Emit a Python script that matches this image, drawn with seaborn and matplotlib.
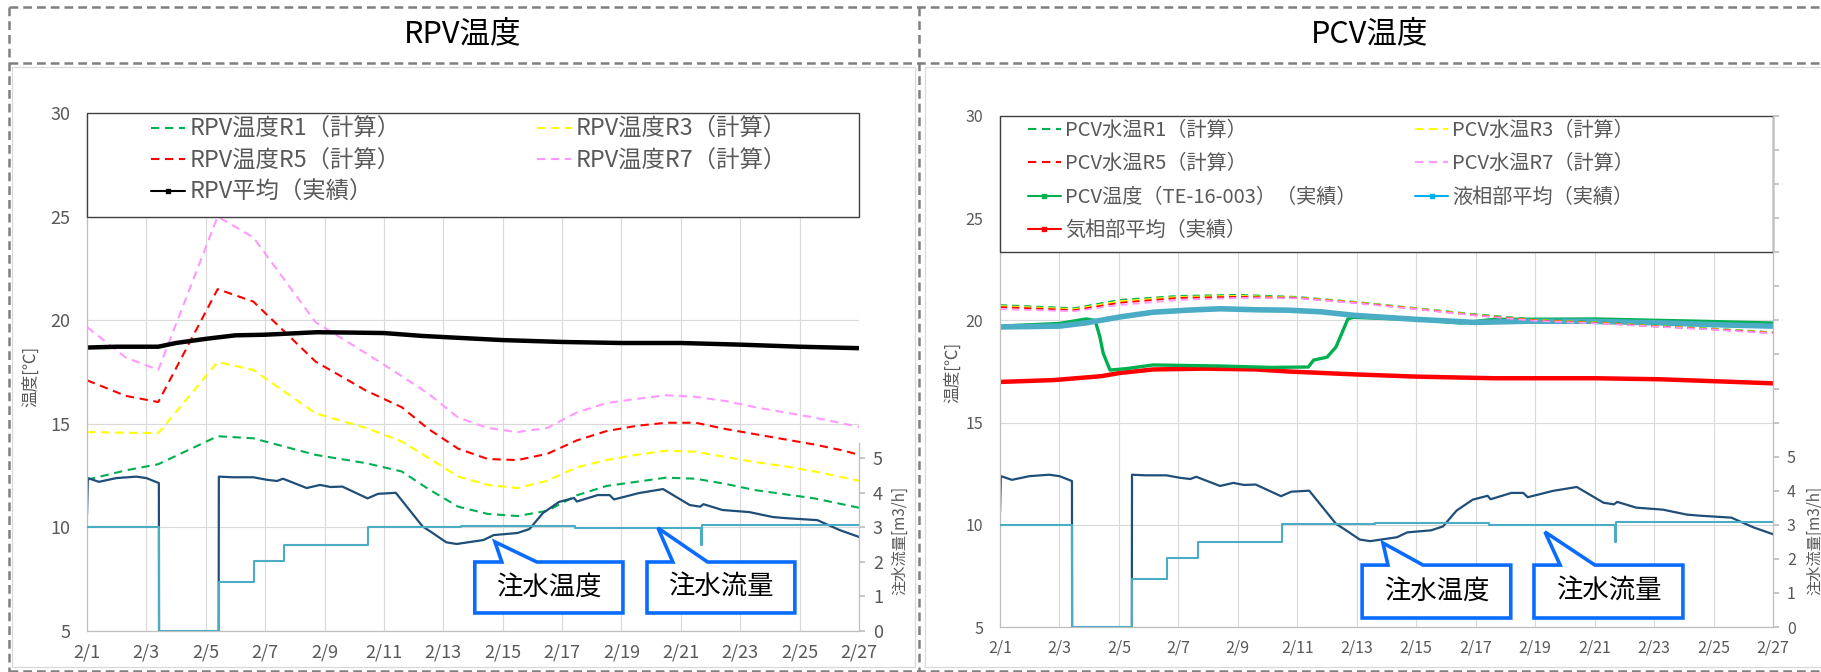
import numpy as np
import matplotlib
matplotlib.use("Agg")
import matplotlib.pyplot as plt
import seaborn as sns
from matplotlib.lines import Line2D
from matplotlib.patches import Rectangle, Polygon

# --------------------------
# DATA (day 0 = 2/1)
# --------------------------
x_tick_pos = list(range(0, 27, 2))
x_tick_labels = ["2/1", "2/3", "2/5", "2/7", "2/9", "2/11", "2/13", "2/15",
                 "2/17", "2/19", "2/21", "2/23", "2/25", "2/27"]
temp_ticks = [5, 10, 15, 20, 25, 30]
flow_ticks = [0, 1, 2, 3, 4, 5]

# RPV calc
rpv_days = [0, 1.3, 2.4, 4.4, 5.6, 7.7, 9.4, 10.6, 11.5, 12.5, 13.5, 14.5, 15.5,
            16.5, 17.5, 18.5, 19.5, 20.5, 21.5, 22.5, 23.5, 24.5, 25.5, 26]
rpv_r1 = [12.3, 12.75, 13.05, 14.4, 14.3, 13.5, 13.1, 12.7, 11.85, 11.0, 10.65, 10.55,
          10.8, 11.55, 12.0, 12.2, 12.4, 12.35, 12.1, 11.8, 11.6, 11.4, 11.1, 10.95]
rpv_r3 = [14.6, 14.57, 14.55, 17.98, 17.6, 15.5, 14.8, 14.15, 13.35, 12.45, 12.05, 11.9,
          12.25, 12.9, 13.25, 13.5, 13.7, 13.65, 13.4, 13.15, 12.95, 12.7, 12.4, 12.25]
rpv_r5 = [17.1, 16.35, 16.05, 21.5, 20.9, 18.0, 16.6, 15.8, 14.75, 13.8, 13.3, 13.25,
          13.55, 14.2, 14.65, 14.9, 15.05, 15.05, 14.75, 14.5, 14.25, 14.0, 13.7, 13.5]
rpv_r7 = [19.67, 18.2, 17.6, 25.0, 24.0, 19.9, 18.4, 17.3, 16.45, 15.3, 14.8, 14.6,
          14.8, 15.55, 16.0, 16.2, 16.38, 16.3, 16.1, 15.8, 15.55, 15.3, 15.0, 14.85]

# RPV average (measured)
rpv_avg_days = [0, 1.0, 2.4, 3.0, 4.0, 5.0, 6.0, 7.75, 9.0, 10.0, 11.3, 12.5, 14.0,
                16.0, 18.0, 20.0, 22.0, 24.0, 26.0]
rpv_avg = [18.68, 18.72, 18.72, 18.9, 19.1, 19.27, 19.3, 19.42, 19.4, 19.38, 19.24,
           19.15, 19.04, 18.95, 18.9, 18.9, 18.82, 18.72, 18.65]

# PCV calc
pcv_days = [0, 2.5, 4, 6, 8, 10, 12, 14, 16, 18, 20, 22, 24, 26]
pcv_r1 = [20.75, 20.6, 21.0, 21.2, 21.25, 21.15, 20.9, 20.6, 20.3, 20.05, 19.92, 19.75, 19.6, 19.42]
pcv_r3 = [20.7, 20.55, 20.93, 21.15, 21.2, 21.12, 20.88, 20.58, 20.27, 20.02, 19.9, 19.73, 19.58, 19.4]
pcv_r5 = [20.65, 20.5, 20.86, 21.1, 21.15, 21.1, 20.86, 20.56, 20.25, 20.0, 19.88, 19.71, 19.56, 19.38]
pcv_r7 = [20.55, 20.45, 20.75, 21.0, 21.1, 21.08, 20.84, 20.55, 20.24, 19.98, 19.86, 19.7, 19.55, 19.36]

# PCV measured
te_days = [0, 2.0, 2.9, 3.2, 3.36, 3.47, 3.7, 4.25, 5.15, 7.4, 9.1, 10.37, 10.55, 11.0,
           11.3, 11.5, 11.7, 11.88, 12.8, 14, 15.5, 16.6, 20, 23.8, 26]
te_temp = [19.72, 19.85, 20.07, 20.0, 19.19, 18.4, 17.57, 17.64, 17.82, 17.77, 17.7, 17.72,
           18.06, 18.2, 18.7, 19.38, 20.07, 20.15, 20.1, 20.05, 19.87, 20.05, 20.07, 19.95, 19.87]
liq_days = [0, 2, 2.9, 4.04, 5.15, 6.3, 7.4, 8.6, 9.7, 10.8, 11.9, 14, 16, 17.7, 19.7, 22.2, 24.5, 26]
liq_temp = [19.68, 19.72, 19.88, 20.17, 20.4, 20.5, 20.57, 20.52, 20.5, 20.42, 20.25, 20.05,
            19.9, 19.96, 19.96, 19.88, 19.77, 19.72]
gas_days = [0, 1.8, 3.4, 4.04, 5.15, 6.9, 8.6, 9.7, 10.8, 11.9, 14, 16.6, 20, 22.2, 24.5, 26]
gas_temp = [16.99, 17.08, 17.27, 17.43, 17.6, 17.64, 17.6, 17.5, 17.43, 17.36, 17.25, 17.17,
            17.17, 17.12, 17.0, 16.92]

# injection water temperature [C] and flow [m3/h]
inj_days = [0, 0.03, 0.4, 0.99, 1.66, 2.0, 2.42, 2.43, 4.43, 4.44, 4.9, 5.6, 6.05, 6.4, 6.6,
            7.4, 7.85, 8.2, 8.6, 9.45, 9.8, 10.4, 11.3, 11.6, 12.1, 12.45, 13.35, 13.7, 14.5,
            14.9, 15.36, 15.9, 16.4, 16.5, 17.2, 17.6, 17.75, 18.6, 19.4, 20.3, 20.65, 20.76,
            21.4, 22.3, 23.1, 23.5, 24.6, 25.35, 26.0]
inj_temp = [10.6, 12.38, 12.2, 12.38, 12.45, 12.38, 12.14, 0, 0, 12.45, 12.42, 12.42, 12.3,
            12.24, 12.35, 11.9, 12.05, 11.95, 11.97, 11.4, 11.62, 11.67, 10.05, 9.77, 9.28,
            9.2, 9.39, 9.63, 9.73, 9.92, 10.7, 11.23, 11.42, 11.25, 11.56, 11.56, 11.35,
            11.66, 11.85, 11.08, 11.0, 11.12, 10.84, 10.74, 10.5, 10.45, 10.35, 9.87, 9.54]
flow_days = [0, 2.42, 4.44, 5.62, 6.65, 9.47, 12.6, 16.45, 20.68, 20.72, 26.0]
flow_vals = [3.0, 0.0, 1.42, 2.03, 2.49, 3.01, 3.05, 2.98, 2.49, 3.07, 3.07]

rpv_labels = ["RPV温度R1（計算）", "RPV温度R3（計算）", "RPV温度R5（計算）",
              "RPV温度R7（計算）", "RPV平均（実績）"]
pcv_labels = ["PCV水温R1（計算）", "PCV水温R3（計算）", "PCV水温R5（計算）",
              "PCV水温R7（計算）", "PCV温度（TE-16-003）（実績）", "液相部平均（実績）",
              "気相部平均（実績）"]
callout_texts = ["注水温度", "注水流量"]

# --------------------------
# STYLE
# --------------------------
sns.set_theme(style="white")
plt.rcParams["font.family"] = ["Noto Sans CJK JP", "DejaVu Sans"]

GREEN, YELLOW, RED, PINK = "#00B050", "#FFFF00", "#FF0000", "#FF99FF"
NAVY, AQUA, GRAY_TXT = "#1F4E79", "#4BACC6", "#595959"
CALLOUT_BLUE = "#0A6CFF"
DASH = (0, (4, 2.7))

W, H = 1821, 672
fig = plt.figure(figsize=(W / 100, H / 100), dpi=100)


def fx(px):
    return px / W


def fy(py):
    return 1 - py / H


def line(ax, x, y, **kw):
    sns.lineplot(x=x, y=y, ax=ax, legend=False, sort=False, estimator=None, **kw)


def setup(ax, ax2, tsize, full_right):
    ax.set_xlim(0, 26)
    ax.set_ylim(5, 30)
    ax.set_xticks(x_tick_pos)
    ax.set_xticklabels(x_tick_labels)
    ax.set_yticks(temp_ticks)
    ax.grid(True, color="#D9D9D9", lw=0.8)
    ax.set_axisbelow(True)
    for s in ["top", "right"]:
        ax.spines[s].set_visible(False)
    for s in ["left", "bottom"]:
        ax.spines[s].set_color("#BFBFBF")
        ax.spines[s].set_linewidth(0.9)
    ax.tick_params(axis="both", length=0, labelsize=tsize, labelcolor=GRAY_TXT)
    ax.tick_params(axis="y", pad=12)
    ax.tick_params(axis="x", pad=9)
    ax2.set_ylim(0, 15)
    for s in ["top", "left", "bottom"]:
        ax2.spines[s].set_visible(False)
    ax2.spines["right"].set_color("#BFBFBF")
    ax2.spines["right"].set_linewidth(0.9)
    if full_right:
        ax2.set_yticks(range(16))
        ax2.set_yticklabels([str(v) for v in flow_ticks] + [""] * 10)
    else:
        ax2.spines["right"].set_bounds(0, 5.45)
        ax2.set_yticks(flow_ticks)
        ax2.set_yticklabels([str(v) for v in flow_ticks])
    ax2.tick_params(axis="y", length=4, color="#BFBFBF", labelsize=tsize,
                    labelcolor=GRAY_TXT, pad=6)
    ax2.grid(False)


def injection(ax, ax2):
    line(ax, inj_days, inj_temp, color=NAVY, lw=1.6)
    line(ax2, flow_days, flow_vals, color=AQUA, lw=1.5, drawstyle="steps-post")


def callout(ax, ax2, text, box, tip, base, fs):
    x0, x1, yb, yt = box
    pts = [(x0, yb), (x0, yt), (base[0], yt), tip, (base[1], yt), (x1, yt), (x1, yb)]
    poly = Polygon(pts, closed=True, facecolor="white", edgecolor=CALLOUT_BLUE,
                   lw=2.6, joinstyle="miter", transform=ax.transData, zorder=10,
                   clip_on=False)
    ax2.add_patch(poly)
    ax2.text((x0 + x1) / 2, (yb + yt) / 2, text, transform=ax.transData,
             ha="center", va="center", fontsize=fs, color="black", zorder=11)


def legend_box(ax, ybottom):
    ax.add_patch(Rectangle((0, ybottom), 1, 1 - ybottom, transform=ax.transAxes,
                           facecolor="white", edgecolor="#404040", lw=1.0, zorder=5,
                           clip_on=False))


def two_col_legend(ax, col1, col2, x1, x2, ytop, fs, hl, ls):
    kw = dict(loc="upper left", frameon=False, fontsize=fs, handlelength=hl,
              handletextpad=0.2, borderpad=0, labelspacing=ls, labelcolor=GRAY_TXT,
              borderaxespad=0)
    leg1 = ax.legend(handles=[h for h, _ in col1], labels=[l for _, l in col1],
                     bbox_to_anchor=(x1, ytop), **kw)
    leg1.set_zorder(6)
    ax.add_artist(leg1)
    leg2 = ax.legend(handles=[h for h, _ in col2], labels=[l for _, l in col2],
                     bbox_to_anchor=(x2, ytop), **kw)
    leg2.set_zorder(6)


def dash_handle(c):
    return Line2D([], [], color=c, lw=1.5, linestyle=DASH)


def solid_handle(c):
    return Line2D([], [], color=c, lw=1.5, marker="s", markersize=3.5)


# --------------------------
# LEFT PANEL: RPV
# --------------------------
axL = fig.add_axes([fx(87), fy(631), fx(859) - fx(87), fy(113) - fy(631)])
axL2 = axL.twinx()
setup(axL, axL2, 13, False)
for vals, c in [(rpv_r1, GREEN), (rpv_r3, YELLOW), (rpv_r5, RED), (rpv_r7, PINK)]:
    line(axL, rpv_days, vals, color=c, lw=1.5, linestyle=DASH)
line(axL, rpv_avg_days, rpv_avg, color="black", lw=3.2)
injection(axL, axL2)
legend_box(axL, 0.8)
two_col_legend(axL,
               [(dash_handle(GREEN), rpv_labels[0]), (dash_handle(RED), rpv_labels[2]),
                (solid_handle("black"), rpv_labels[4])],
               [(dash_handle(YELLOW), rpv_labels[1]), (dash_handle(PINK), rpv_labels[3])],
               0.083, 0.583, 0.99, 16.8, 1.45, 0.36)
callout(axL, axL2, callout_texts[0], (13.06, 18.05, 5.87, 8.33), (13.74, 9.3), (13.97, 15.15), 19)
callout(axL, axL2, callout_texts[1], (18.86, 23.84, 5.87, 8.33), (19.23, 9.97), (19.73, 20.9), 19)
fig.text(fx(31), fy(376), "温度[℃]", rotation=90, ha="center", va="center",
         fontsize=12, color=GRAY_TXT)
fig.text(fx(900), fy(540), "注水流量[m3/h]", rotation=90, ha="center", va="center",
         fontsize=11, color=GRAY_TXT)

# --------------------------
# RIGHT PANEL: PCV
# --------------------------
axR = fig.add_axes([fx(1000), fy(627), fx(1773) - fx(1000), fy(116) - fy(627)])
axR2 = axR.twinx()
setup(axR, axR2, 11.5, True)
line(axR, gas_days, gas_temp, color=RED, lw=3.2)
line(axR, te_days, te_temp, color=GREEN, lw=2.4)
line(axR, liq_days, liq_temp, color=AQUA, lw=4.0)
for vals, c in [(pcv_r1, GREEN), (pcv_r3, YELLOW), (pcv_r5, RED), (pcv_r7, PINK)]:
    line(axR, pcv_days, vals, color=c, lw=1.3, linestyle=DASH)
injection(axR, axR2)
legend_box(axR, (23.35 - 5) / 25)
two_col_legend(axR,
               [(dash_handle(GREEN), pcv_labels[0]), (dash_handle(RED), pcv_labels[2]),
                (solid_handle(GREEN), pcv_labels[4]), (solid_handle(RED), pcv_labels[6])],
               [(dash_handle(YELLOW), pcv_labels[1]), (dash_handle(PINK), pcv_labels[3]),
                (solid_handle("#00B0F0"), pcv_labels[5])],
               0.036, 0.537, 0.993, 14.5, 1.65, 0.62)
callout(axR, axR2, callout_texts[0], (12.18, 17.18, 5.44, 8.03), (12.88, 9.11), (13.05, 14.23), 19)
callout(axR, axR2, callout_texts[1], (17.96, 22.97, 5.44, 8.03), (18.33, 9.65), (18.84, 20.01), 19)
fig.text(fx(953), fy(372), "温度[℃]", rotation=90, ha="center", va="center",
         fontsize=12, color=GRAY_TXT)
fig.text(fx(1815), fy(540), "注水流量[m3/h]", rotation=90, ha="center", va="center",
         fontsize=11, color=GRAY_TXT)

# --------------------------
# PANEL FRAMES AND TITLES
# --------------------------
fig.text(fx(463), fy(34), "RPV温度", ha="center", va="center", fontsize=22, color="black")
fig.text(fx(1370), fy(34), "PCV温度", ha="center", va="center", fontsize=22, color="black")

dash_kw = dict(color="#808080", lw=1.8, linestyle=(0, (3.5, 2)), transform=fig.transFigure)
for yy in [7, 63, 671]:
    fig.add_artist(Line2D([fx(9), 1], [fy(yy), fy(yy)], **dash_kw))
for xx in [9, 919]:
    fig.add_artist(Line2D([fx(xx), fx(xx)], [fy(7), fy(672)], **dash_kw))

solid_kw = dict(color="#D9D9D9", lw=0.9, transform=fig.transFigure)
for x0, x1 in [(12, 915), (925, 1825)]:
    fig.add_artist(Line2D([fx(x0), fx(x1), fx(x1), fx(x0), fx(x0)],
                          [fy(67), fy(67), fy(667), fy(667), fy(67)], **solid_kw))

fig.savefig("out.png", dpi=100)
